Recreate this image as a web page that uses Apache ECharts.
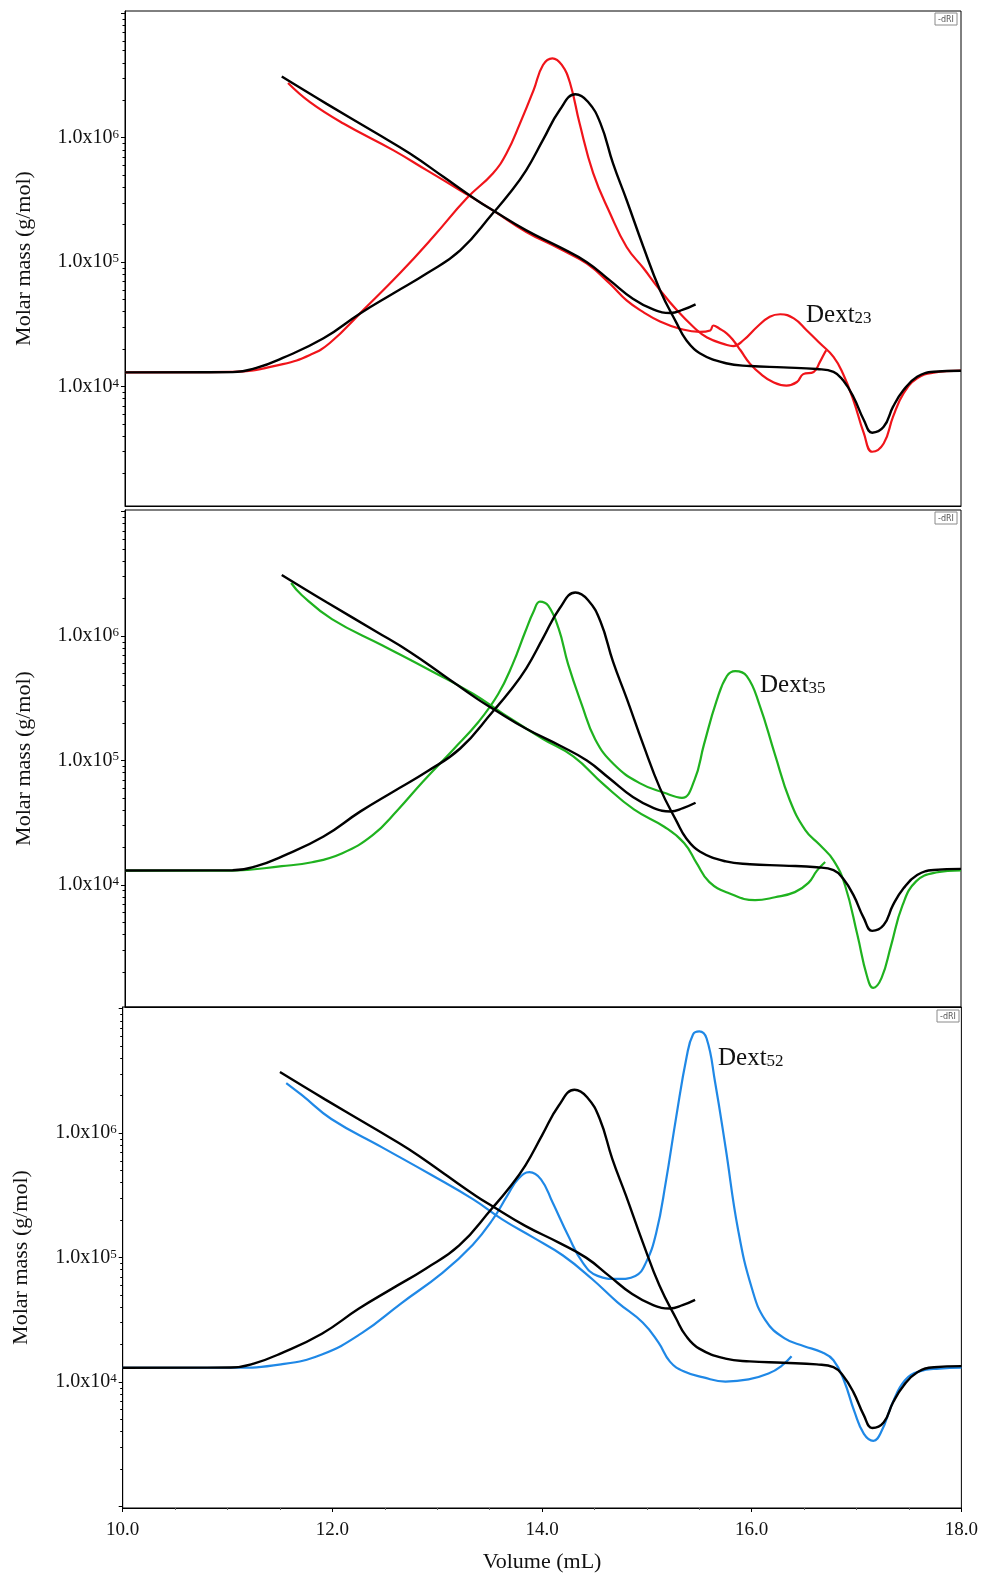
<!DOCTYPE html>
<html><head><meta charset="utf-8">
<script src="https://cdn.jsdelivr.net/npm/echarts@6/dist/echarts.min.js"></script>
<style>html,body{margin:0;padding:0;background:#fff}#c{width:981px;height:1577px}</style>
</head><body><div id="c"></div>
<script>
// ---------- data (volume in mL, RI in relative units, molar mass in g/mol) ----------
const refRIVol = [10.00, 11.03, 11.25, 11.51, 11.90, 12.25, 12.57, 12.89, 13.21, 13.52, 13.68, 13.84, 14.00, 14.16, 14.31, 14.43, 14.55, 14.67, 14.80, 14.96, 15.12, 15.28, 15.37, 15.50, 15.75, 15.98, 16.30, 16.62, 16.78, 16.87, 16.97, 17.07, 17.15, 17.26, 17.35, 17.45, 17.58, 17.74, 18.00];
const refRI    = [0.000, 0.001, 0.015, 0.052, 0.123, 0.213, 0.286, 0.358, 0.442, 0.575, 0.647, 0.731, 0.840, 0.948, 1.005, 0.978, 0.900, 0.755, 0.623, 0.454, 0.297, 0.177, 0.117, 0.069, 0.033, 0.023, 0.018, 0.012, 0.002, -0.028, -0.088, -0.172, -0.218, -0.197, -0.124, -0.064, -0.016, 0.002, 0.006];
const refMassVol = [11.50, 11.93, 12.41, 12.73, 13.05, 13.37, 13.52, 13.84, 14.16, 14.42, 14.64, 14.86, 15.06, 15.22, 15.34, 15.46];
const refMass    = [3.10e6, 1.87e6, 1.08e6, 7.43e5, 4.83e5, 3.13e5, 2.61e5, 1.80e5, 1.32e5, 1.00e5, 7.14e4, 5.09e4, 4.15e4, 3.90e4, 4.15e4, 4.58e4];

const redRIVol = [10.00, 11.03, 11.51, 11.77, 11.96, 12.28, 12.63, 12.95, 13.27, 13.52, 13.65, 13.78, 13.91, 14.00, 14.09, 14.18, 14.26, 14.35, 14.48, 14.64, 14.80, 14.96, 15.12, 15.28, 15.44, 15.57, 15.76, 15.82, 15.92, 16.05, 16.17, 16.27, 16.40, 16.52, 16.65, 16.78, 16.87, 16.97, 17.07, 17.15, 17.26, 17.35, 17.45, 17.58, 17.74, 18.00];
const redRI    = [0, 0.002, 0.030, 0.063, 0.106, 0.225, 0.358, 0.490, 0.629, 0.719, 0.791, 0.900, 1.020, 1.111, 1.135, 1.111, 1.044, 0.900, 0.720, 0.576, 0.453, 0.377, 0.297, 0.225, 0.164, 0.126, 0.099, 0.095, 0.117, 0.165, 0.201, 0.210, 0.195, 0.153, 0.105, 0.056, -0.004, -0.100, -0.220, -0.287, -0.257, -0.160, -0.076, -0.022, -0.001, 0.006];
const redMassVol = [11.56, 11.77, 12.09, 12.57, 12.89, 13.21, 13.52, 13.84, 14.16, 14.42, 14.64, 14.80, 14.96, 15.12, 15.31, 15.50, 15.60, 15.63, 15.69, 15.76, 15.82, 15.89, 15.98, 16.08, 16.20, 16.33, 16.43, 16.49, 16.59, 16.65, 16.70, 16.71];
const redMass    = [2.75e6, 1.93e6, 1.30e6, 7.91e5, 5.46e5, 3.77e5, 2.61e5, 1.75e5, 1.28e5, 9.72e4, 6.72e4, 4.93e4, 3.97e4, 3.34e4, 2.92e4, 2.75e4, 2.83e4, 3.10e4, 2.92e4, 2.67e4, 2.36e4, 1.96e4, 1.53e4, 1.27e4, 1.09e4, 1.02e4, 1.09e4, 1.26e4, 1.31e4, 1.58e4, 1.90e4, 1.96e4];

const greenRIVol = [10.00, 11.02, 11.50, 11.79, 12.08, 12.37, 12.61, 12.85, 13.14, 13.38, 13.57, 13.71, 13.83, 13.91, 13.97, 14.05, 14.15, 14.24, 14.37, 14.50, 14.68, 14.92, 15.16, 15.33, 15.45, 15.54, 15.66, 15.76, 15.84, 15.95, 16.07, 16.22, 16.36, 16.51, 16.65, 16.78, 16.89, 17.01, 17.10, 17.16, 17.24, 17.33, 17.44, 17.57, 17.76, 18.00];
const greenRI    = [0, 0, 0.016, 0.030, 0.063, 0.128, 0.219, 0.321, 0.437, 0.536, 0.637, 0.746, 0.863, 0.936, 0.972, 0.957, 0.874, 0.746, 0.601, 0.474, 0.383, 0.317, 0.281, 0.263, 0.328, 0.455, 0.612, 0.703, 0.721, 0.703, 0.601, 0.419, 0.256, 0.146, 0.092, 0.037, -0.053, -0.235, -0.381, -0.424, -0.388, -0.272, -0.126, -0.039, -0.007, 0.001];
const greenMassVol = [11.59, 11.69, 11.98, 12.46, 12.94, 13.33, 13.62, 14.00, 14.29, 14.58, 14.87, 15.16, 15.35, 15.47, 15.59, 15.78, 16.03, 16.22, 16.41, 16.54, 16.62, 16.70];
const greenMass    = [2.67e6, 2.14e6, 1.37e6, 8.44e5, 5.19e5, 3.44e5, 2.37e5, 1.49e5, 1.08e5, 6.44e4, 4.05e4, 2.94e4, 2.18e4, 1.50e4, 1.06e4, 8.59e3, 7.55e3, 7.98e3, 8.77e3, 1.04e4, 1.30e4, 1.53e4];

const blueRIVol = [10.00, 11.04, 11.51, 11.90, 12.28, 12.66, 13.05, 13.34, 13.53, 13.67, 13.77, 13.88, 13.99, 14.10, 14.25, 14.39, 14.53, 14.72, 14.89, 14.99, 15.09, 15.18, 15.28, 15.38, 15.44, 15.50, 15.57, 15.65, 15.75, 15.87, 16.00, 16.13, 16.31, 16.50, 16.67, 16.78, 16.88, 16.98, 17.07, 17.16, 17.24, 17.34, 17.46, 17.60, 17.79, 18.00];
const blueRI    = [0, 0, 0.012, 0.048, 0.125, 0.234, 0.343, 0.445, 0.536, 0.623, 0.681, 0.707, 0.681, 0.598, 0.477, 0.379, 0.332, 0.321, 0.332, 0.379, 0.489, 0.670, 0.907, 1.125, 1.205, 1.216, 1.190, 1.034, 0.798, 0.499, 0.289, 0.172, 0.107, 0.078, 0.056, 0.027, -0.046, -0.159, -0.239, -0.264, -0.228, -0.130, -0.046, -0.013, -0.003, 0];
const blueMassVol = [11.56, 11.71, 11.99, 12.47, 12.95, 13.34, 13.62, 13.91, 14.20, 14.48, 14.72, 14.96, 15.11, 15.22, 15.35, 15.54, 15.75, 15.97, 16.16, 16.29, 16.38];
const blueMass    = [2.53e6, 2.02e6, 1.30e6, 7.73e5, 4.59e5, 2.95e5, 2.03e5, 1.46e5, 1.04e5, 6.70e4, 4.37e4, 3.01e4, 2.08e4, 1.46e4, 1.22e4, 1.09e4, 1.01e4, 1.05e4, 1.17e4, 1.36e4, 1.61e4];

const sampleNames = ['23', '35', '52'];
const yLabelExponents = [4, 5, 6];
const xTitle = 'Volume (mL)';
const yTitle = 'Molar mass (g/mol)';

// ---------- layout ----------
const serif = '"Liberation Serif", "Times New Roman", serif';
const grids = [
  {left: 125, top: 11, width: 836, height: 495},
  {left: 125, top: 510, width: 836, height: 497},
  {left: 122.7, top: 1007, width: 840.3, height: 501}
];
const logRange = [[3.041, 7.018], [3.020, 7.013], [2.988, 7.014]];
const riRange = [[-0.483, 1.306], [-0.493, 1.303], [-0.507, 1.304]];
const colors = ['#f0141a', '#1fb21f', '#1f88e6'];
const samples = [
  {ri: [redRIVol, redRI], mass: [redMassVol, redMass]},
  {ri: [greenRIVol, greenRI], mass: [greenMassVol, greenMass]},
  {ri: [blueRIVol, blueRI], mass: [blueMassVol, blueMass]}
];
const tagPos = [[806, 315], [760, 685], [718, 1058]];
const boxPos = [[935, 13], [935, 512], [937, 1010]];

const pairs = (xs, ys, f) => xs.map((x, i) => [x, f ? f(ys[i]) : ys[i]]);
const lg = v => Math.log10(v);

const majorAll = [2, 3, 4, 5, 6, 7];
const minorAll = [];
for (let n = 2; n <= 7; n++) for (let k = 2; k <= 9; k++) minorAll.push(Math.log10(k * Math.pow(10, n)));

const yAxes = [], xAxes = [], series = [], graphics = [];
grids.forEach((g, i) => {
  const [lo, hi] = logRange[i];
  xAxes.push({
    gridIndex: i, type: 'value', min: 10, max: 18, interval: 2,
    axisLine: {show: true, onZero: false, lineStyle: {color: '#000', width: 1}},
    axisTick: {show: i === 2, length: 4, lineStyle: {color: '#000'}},
    minorTick: {show: i === 2, splitNumber: 4, length: 2, lineStyle: {color: '#666'}},
    axisLabel: {show: i === 2, formatter: v => v.toFixed(1), fontFamily: serif, fontSize: 19, color: '#111', margin: 13, showMinLabel: true, showMaxLabel: true},
    splitLine: {show: false},
    name: i === 2 ? xTitle : '', nameLocation: 'middle', nameGap: 43,
    nameTextStyle: {fontFamily: serif, fontSize: 22, color: '#111'}
  });
  yAxes.push({
    gridIndex: i, type: 'value', position: 'left', min: lo, max: hi,
    axisLine: {show: true, onZero: false, lineStyle: {color: '#000', width: 1}},
    axisTick: {show: true, length: 4, customValues: majorAll.filter(v => v >= lo && v <= hi), lineStyle: {color: '#000'}},
    axisLabel: {
      customValues: yLabelExponents, margin: 6,
      formatter: v => '{b|1.0x10}{s|' + Math.round(v) + '}',
      rich: {
        b: {fontSize: 20, fontFamily: serif, color: '#111'},
        s: {fontSize: 13, fontFamily: serif, color: '#111', verticalAlign: 'top'}
      }
    },
    splitLine: {show: false},
    name: yTitle, nameLocation: 'middle', nameRotate: 90, nameGap: 90,
    nameTextStyle: {fontFamily: serif, fontSize: 22, color: '#111'}
  });
  yAxes.push({
    gridIndex: i, type: 'value', position: 'left', min: lo, max: hi,
    axisLine: {show: false, onZero: false},
    axisTick: {show: true, length: 2.5, customValues: minorAll.filter(v => v >= lo && v <= hi), lineStyle: {color: '#000'}},
    axisLabel: {show: false}, splitLine: {show: false}
  });
  yAxes.push({
    gridIndex: i, type: 'value', position: 'right', min: riRange[i][0], max: riRange[i][1], show: false,
    axisLine: {show: false, onZero: false}
  });
  const base = {type: 'line', xAxisIndex: i, showSymbol: false, symbol: 'none', smooth: 0.45, animation: false, silent: true};
  const s = samples[i];
  series.push(Object.assign({}, base, {name: 'dRI ' + sampleNames[i], yAxisIndex: 3 * i + 2, data: pairs(s.ri[0], s.ri[1]), lineStyle: {color: colors[i], width: 2.2}}));
  series.push(Object.assign({}, base, {name: 'M ' + sampleNames[i], yAxisIndex: 3 * i, data: pairs(s.mass[0], s.mass[1], lg), lineStyle: {color: colors[i], width: 2.2}}));
  series.push(Object.assign({}, base, {name: 'dRI ref', yAxisIndex: 3 * i + 2, data: pairs(refRIVol, refRI), lineStyle: {color: '#000', width: 2.4}}));
  series.push(Object.assign({}, base, {name: 'M ref', yAxisIndex: 3 * i, data: pairs(refMassVol, refMass, lg), lineStyle: {color: '#000', width: 2.4}}));

  graphics.push({
    type: 'text', x: tagPos[i][0], y: tagPos[i][1], silent: true,
    style: {
      text: '{a|Dext}{b|' + sampleNames[i] + '}',
      textVerticalAlign: 'middle',
      rich: {
        a: {fontSize: 25, fontFamily: serif, fill: '#111'},
        b: {fontSize: 17, fontFamily: serif, fill: '#111', verticalAlign: 'bottom'}
      }
    }
  });
  graphics.push({
    type: 'group', x: boxPos[i][0], y: boxPos[i][1], silent: true,
    children: [
      {type: 'rect', shape: {x: 0, y: 0, width: 22, height: 12}, style: {fill: '#fff', stroke: '#8a8a8a', lineWidth: 1}},
      {type: 'text', x: 11, y: 6.5, style: {text: '-dRI', font: '8px "DejaVu Sans", sans-serif', fill: '#555', textAlign: 'center', textVerticalAlign: 'middle'}}
    ]
  });
});

const chart = echarts.init(document.getElementById('c'), null, {renderer: 'canvas', width: 981, height: 1577});
chart.setOption({
  animation: false,
  backgroundColor: '#fff',
  grid: grids.map(g => Object.assign({show: true, borderColor: '#000', borderWidth: 1, containLabel: false}, g)),
  xAxis: xAxes,
  yAxis: yAxes,
  series: series,
  graphic: graphics
});
</script>
</body></html>
